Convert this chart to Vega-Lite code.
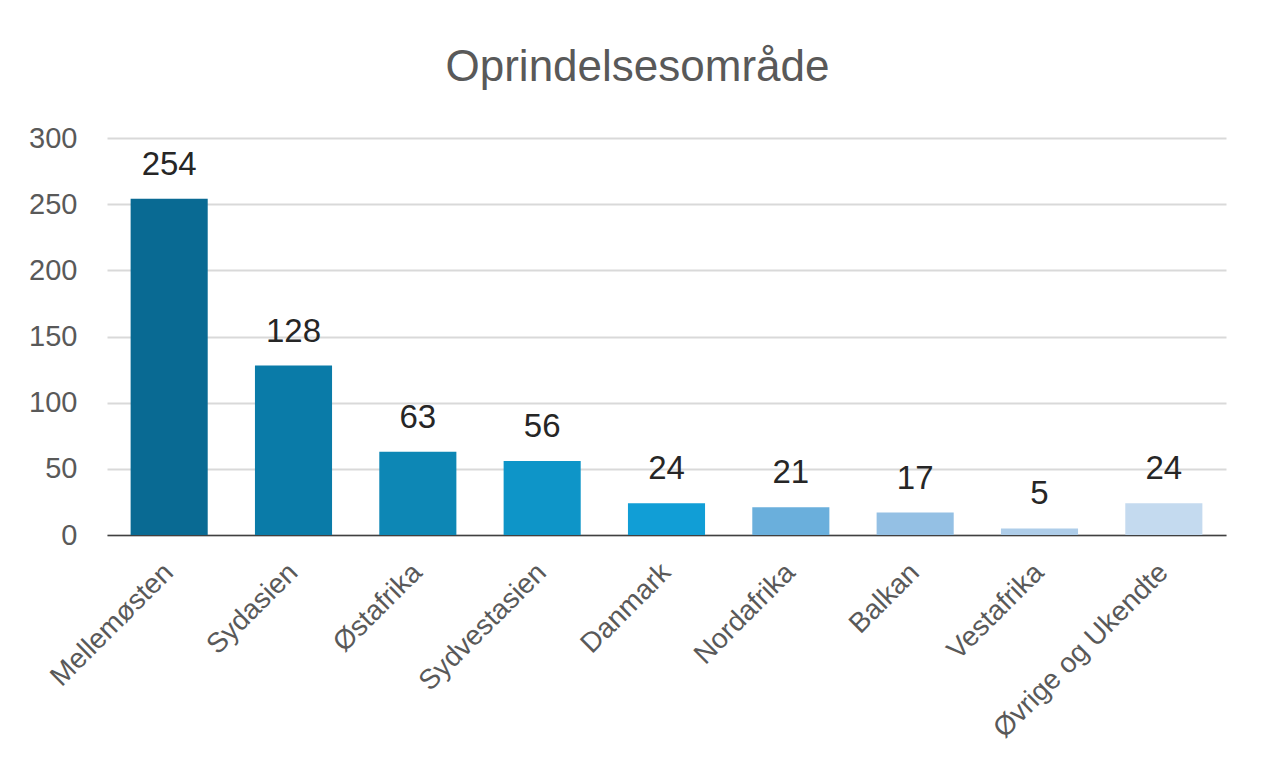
{
  "$schema": "https://vega.github.io/schema/vega-lite/v6.json",
  "width": 1119,
  "height": 397,
  "autosize": {"type": "none"},
  "padding": {"left": 107, "top": 138, "right": 37, "bottom": 223},
  "background": "white",
  "title": {
    "text": "Oprindelsesområde",
    "font": "Liberation Sans",
    "fontSize": 44,
    "fontWeight": "normal",
    "color": "#595959",
    "anchor": "middle",
    "dx": -29,
    "dy": 43,
    "baseline": "alphabetic",
    "offset": 42
  },
  "data": {
    "values": [
      {"region": "Mellemøsten", "count": 254, "color": "#096a93"},
      {"region": "Sydasien", "count": 128, "color": "#0a7ba8"},
      {"region": "Østafrika", "count": 63, "color": "#0d87b5"},
      {"region": "Sydvestasien", "count": 56, "color": "#0e95c8"},
      {"region": "Danmark", "count": 24, "color": "#119ed6"},
      {"region": "Nordafrika", "count": 21, "color": "#6aafdc"},
      {"region": "Balkan", "count": 17, "color": "#94c0e4"},
      {"region": "Vestafrika", "count": 5, "color": "#aecde9"},
      {"region": "Øvrige og Ukendte", "count": 24, "color": "#c4daef"}
    ]
  },
  "encoding": {
    "x": {
      "field": "region",
      "type": "nominal",
      "sort": null,
      "scale": {"paddingInner": 0.38, "paddingOuter": 0.19},
      "axis": {
        "title": null,
        "labelAngle": -45,
        "labelAlign": "right",
        "labelBaseline": "middle",
        "labelFont": "Liberation Sans",
        "labelFontSize": 28,
        "labelColor": "#595959",
        "labelPadding": 33,
        "labelLimit": 0,
        "ticks": false,
        "domainColor": "#404040",
        "domainWidth": 1.5,
        "grid": false
      }
    },
    "y": {
      "field": "count",
      "type": "quantitative",
      "scale": {"domain": [0, 300]},
      "axis": {
        "title": null,
        "values": [0, 50, 100, 150, 200, 250, 300],
        "labelFont": "Liberation Sans",
        "labelFontSize": 29,
        "labelColor": "#595959",
        "labelPadding": 30,
        "ticks": false,
        "domain": false,
        "gridColor": "#d9d9d9",
        "gridWidth": 2
      }
    }
  },
  "layer": [
    {
      "mark": {"type": "bar"},
      "encoding": {
        "color": {"field": "color", "type": "nominal", "scale": null}
      }
    },
    {
      "mark": {
        "type": "text",
        "baseline": "alphabetic",
        "dy": -24,
        "font": "Liberation Sans",
        "fontSize": 33,
        "color": "#262626"
      },
      "encoding": {
        "text": {"field": "count", "type": "quantitative"}
      }
    }
  ],
  "config": {
    "view": {"stroke": null}
  }
}
